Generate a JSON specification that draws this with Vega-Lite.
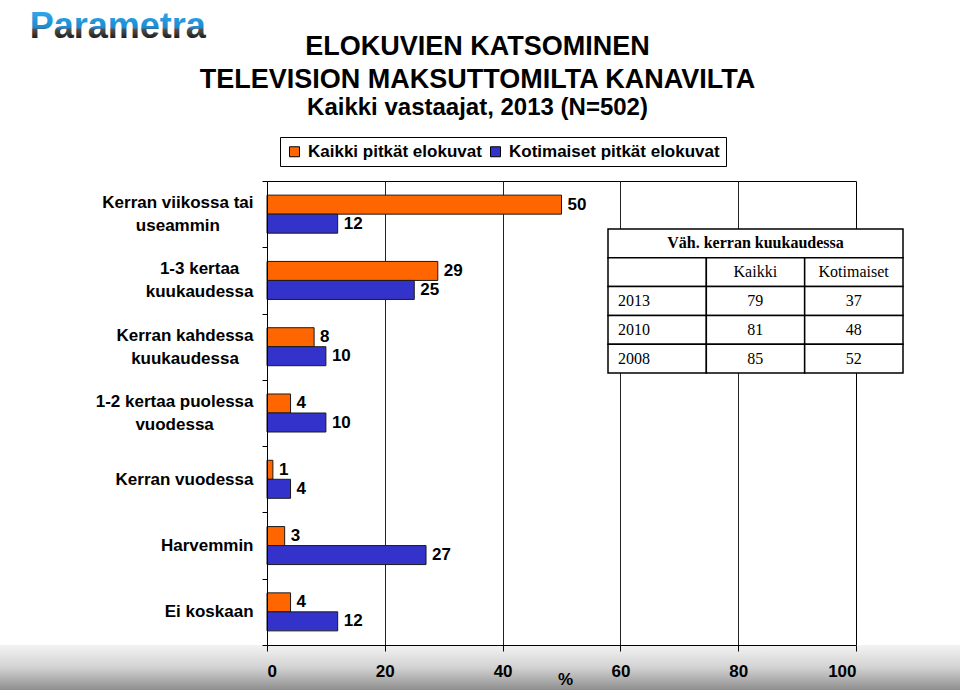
{
  "$schema": "https://vega.github.io/schema/vega-lite/v6.json",
  "width": 589,
  "height": 464,
  "autosize": "none",
  "padding": {"left": 267, "top": 181, "right": 104, "bottom": 50},
  "background": "white",
  "config": {
    "view": {"stroke": "black", "strokeWidth": 1, "fill": "white"},
    "font": "Liberation Sans"
  },
  "title": {
    "text": ["ELOKUVIEN KATSOMINEN", "TELEVISION MAKSUTTOMILTA KANAVILTA"],
    "subtitle": "Kaikki vastaajat, 2013 (N=502)",
    "anchor": "middle",
    "frame": "group",
    "dx": -84,
    "offset": -112,
    "font": "Liberation Sans",
    "fontSize": 27,
    "fontWeight": "bold",
    "color": "black",
    "lineHeight": 33,
    "subtitleFont": "Liberation Sans",
    "subtitleFontSize": 24,
    "subtitleFontWeight": "bold",
    "subtitleColor": "black",
    "subtitlePadding": 2
  },
  "datasets": {
    "bars": [
      {"kategoria": "Kerran viikossa tai useammin", "sarja": "Kaikki pitkät elokuvat", "arvo": 50},
      {"kategoria": "Kerran viikossa tai useammin", "sarja": "Kotimaiset pitkät elokuvat", "arvo": 12},
      {"kategoria": "1-3 kertaa kuukaudessa", "sarja": "Kaikki pitkät elokuvat", "arvo": 29},
      {"kategoria": "1-3 kertaa kuukaudessa", "sarja": "Kotimaiset pitkät elokuvat", "arvo": 25},
      {"kategoria": "Kerran kahdessa kuukaudessa", "sarja": "Kaikki pitkät elokuvat", "arvo": 8},
      {"kategoria": "Kerran kahdessa kuukaudessa", "sarja": "Kotimaiset pitkät elokuvat", "arvo": 10},
      {"kategoria": "1-2 kertaa puolessa vuodessa", "sarja": "Kaikki pitkät elokuvat", "arvo": 4},
      {"kategoria": "1-2 kertaa puolessa vuodessa", "sarja": "Kotimaiset pitkät elokuvat", "arvo": 10},
      {"kategoria": "Kerran vuodessa", "sarja": "Kaikki pitkät elokuvat", "arvo": 1},
      {"kategoria": "Kerran vuodessa", "sarja": "Kotimaiset pitkät elokuvat", "arvo": 4},
      {"kategoria": "Harvemmin", "sarja": "Kaikki pitkät elokuvat", "arvo": 3},
      {"kategoria": "Harvemmin", "sarja": "Kotimaiset pitkät elokuvat", "arvo": 27},
      {"kategoria": "Ei koskaan", "sarja": "Kaikki pitkät elokuvat", "arvo": 4},
      {"kategoria": "Ei koskaan", "sarja": "Kotimaiset pitkät elokuvat", "arvo": 12}
    ],
    "table": [
      {"rivi": 0, "riviLoppu": 1, "sarake": 0, "sarakeLoppu": 3, "teksti": "Väh. kerran kuukaudessa"},
      {"rivi": 1, "riviLoppu": 2, "sarake": 0, "sarakeLoppu": 1, "teksti": ""},
      {"rivi": 1, "riviLoppu": 2, "sarake": 1, "sarakeLoppu": 2, "teksti": "Kaikki"},
      {"rivi": 1, "riviLoppu": 2, "sarake": 2, "sarakeLoppu": 3, "teksti": "Kotimaiset"},
      {"rivi": 2, "riviLoppu": 3, "sarake": 0, "sarakeLoppu": 1, "teksti": "2013"},
      {"rivi": 2, "riviLoppu": 3, "sarake": 1, "sarakeLoppu": 2, "teksti": "79"},
      {"rivi": 2, "riviLoppu": 3, "sarake": 2, "sarakeLoppu": 3, "teksti": "37"},
      {"rivi": 3, "riviLoppu": 4, "sarake": 0, "sarakeLoppu": 1, "teksti": "2010"},
      {"rivi": 3, "riviLoppu": 4, "sarake": 1, "sarakeLoppu": 2, "teksti": "81"},
      {"rivi": 3, "riviLoppu": 4, "sarake": 2, "sarakeLoppu": 3, "teksti": "48"},
      {"rivi": 4, "riviLoppu": 5, "sarake": 0, "sarakeLoppu": 1, "teksti": "2008"},
      {"rivi": 4, "riviLoppu": 5, "sarake": 1, "sarakeLoppu": 2, "teksti": "85"},
      {"rivi": 4, "riviLoppu": 5, "sarake": 2, "sarakeLoppu": 3, "teksti": "52"}
    ],
    "logo": [{"logo": "Parametra"}]
  },
  "resolve": {
    "scale": {"x": "independent", "y": "independent"},
    "axis": {"x": "independent", "y": "independent"}
  },
  "layer": [
    {
      "data": {"name": "logo"},
      "encoding": {
        "x": {
          "datum": 0,
          "type": "quantitative",
          "scale": {"domain": [0, 100], "nice": false, "zero": false},
          "axis": {
            "orient": "bottom",
            "grid": true,
            "gridColor": "#222222",
            "gridWidth": 1,
            "values": [20, 40, 60, 80],
            "domain": false,
            "ticks": false,
            "labels": false,
            "title": null,
            "zindex": 0,
            "maxExtent": 0,
            "minExtent": 0
          }
        },
        "y": {
          "datum": 0,
          "type": "quantitative",
          "scale": {"domain": [0, 7], "nice": false, "zero": false, "reverse": true},
          "axis": null
        }
      },
      "layer": [
        {
          "mark": {
            "type": "rect",
            "fill": {
              "gradient": "linear",
              "x1": 0, "y1": 0, "x2": 0, "y2": 1,
              "stops": [
                {"offset": 0, "color": "#f3f3f3"},
                {"offset": 0.5, "color": "#d2d2d2"},
                {"offset": 1, "color": "#8e8e8e"}
              ]
            }
          },
          "encoding": {
            "x": {"datum": -45.4, "type": "quantitative"},
            "x2": {"datum": 117.7},
            "y": {"datum": 7.0, "type": "quantitative"},
            "y2": {"datum": 7.68}
          }
        },
        {
          "mark": {
            "type": "text",
            "align": "left",
            "baseline": "alphabetic",
            "font": "Liberation Sans",
            "fontSize": 36,
            "fontWeight": "bold",
            "fill": {
              "gradient": "linear",
              "x1": 0, "y1": 0, "x2": 0, "y2": 1,
              "stops": [
                {"offset": 0, "color": "#3ab3f0"},
                {"offset": 0.56, "color": "#1a8bd2"},
                {"offset": 0.6, "color": "#505050"},
                {"offset": 0.82, "color": "#1c1c1c"},
                {"offset": 1, "color": "#1c1c1c"}
              ]
            }
          },
          "encoding": {
            "x": {"datum": -40.3, "type": "quantitative"},
            "y": {"datum": -2.16, "type": "quantitative"},
            "text": {"field": "logo"}
          }
        }
      ]
    },
    {
      "data": {"name": "bars"},
      "encoding": {
        "y": {
          "field": "kategoria",
          "type": "nominal",
          "sort": [
            "Kerran viikossa tai useammin",
            "1-3 kertaa kuukaudessa",
            "Kerran kahdessa kuukaudessa",
            "1-2 kertaa puolessa vuodessa",
            "Kerran vuodessa",
            "Harvemmin",
            "Ei koskaan"
          ],
          "scale": {"paddingInner": 0, "paddingOuter": 0},
          "axis": {
            "orient": "left",
            "title": null,
            "zindex": 1,
            "domainColor": "black",
            "domainWidth": 1,
            "tickColor": "black",
            "tickSize": 5,
            "tickBand": "extent",
            "labelFont": "Liberation Sans",
            "labelFontSize": 17,
            "labelFontWeight": "bold",
            "labelColor": "black",
            "labelAlign": "center",
            "labelBaseline": "middle",
            "labelLineHeight": 23,
            "labelLimit": 300,
            "labelOffset": {
              "condition": [
                {"test": "datum.value == 'Kerran viikossa tai useammin'", "value": -11.5},
                {"test": "datum.value == '1-3 kertaa kuukaudessa'", "value": -11.5},
                {"test": "datum.value == 'Kerran kahdessa kuukaudessa'", "value": -11.5},
                {"test": "datum.value == '1-2 kertaa puolessa vuodessa'", "value": -11.5}
              ],
              "value": 0
            },
            "labelPadding": {
              "condition": [
                {"test": "datum.value == 'Kerran viikossa tai useammin'", "value": 84.6},
                {"test": "datum.value == '1-3 kertaa kuukaudessa'", "value": 62.9},
                {"test": "datum.value == 'Kerran kahdessa kuukaudessa'", "value": 77.5},
                {"test": "datum.value == '1-2 kertaa puolessa vuodessa'", "value": 87.9},
                {"test": "datum.value == 'Kerran vuodessa'", "value": 78},
                {"test": "datum.value == 'Harvemmin'", "value": 55.3}
              ],
              "value": 53.4
            },
            "labelExpr": "datum.value == 'Kerran viikossa tai useammin' ? ['Kerran viikossa tai', 'useammin'] : datum.value == '1-3 kertaa kuukaudessa' ? ['1-3 kertaa', 'kuukaudessa'] : datum.value == 'Kerran kahdessa kuukaudessa' ? ['Kerran kahdessa', 'kuukaudessa'] : datum.value == '1-2 kertaa puolessa vuodessa' ? ['1-2 kertaa puolessa', 'vuodessa'] : datum.label"
          }
        },
        "yOffset": {
          "field": "sarja",
          "type": "nominal",
          "sort": ["Kaikki pitkät elokuvat", "Kotimaiset pitkät elokuvat"],
          "scale": {"paddingInner": 0, "paddingOuter": 0.744}
        },
        "x": {
          "field": "arvo",
          "type": "quantitative",
          "scale": {"domain": [0, 100], "nice": false, "zero": false},
          "axis": {
            "orient": "bottom",
            "zindex": 1,
            "grid": false,
            "values": [0, 20, 40, 60, 80, 100],
            "domainColor": "black",
            "domainWidth": 1,
            "tickColor": "black",
            "tickSize": 6,
            "labelFont": "Liberation Sans",
            "labelFontSize": 17,
            "labelFontWeight": "bold",
            "labelColor": "black",
            "labelPadding": 12,
            "title": "%",
            "titleFont": "Liberation Sans",
            "titleFontSize": 17,
            "titleFontWeight": "bold",
            "titleColor": "black",
            "titleX": 298,
            "titleY": 34,
            "titleAlign": "center",
            "titleBaseline": "middle"
          }
        }
      },
      "layer": [
        {
          "mark": {"type": "bar", "stroke": "#1a1a1a", "strokeWidth": 1},
          "encoding": {
            "color": {
              "field": "sarja",
              "type": "nominal",
              "scale": {
                "domain": ["Kaikki pitkät elokuvat", "Kotimaiset pitkät elokuvat"],
                "range": ["#ff6600", "#3333cc"]
              },
              "legend": {
                "orient": "none",
                "legendX": 13,
                "legendY": -44,
                "direction": "horizontal",
                "title": null,
                "strokeColor": "black",
                "fillColor": "white",
                "padding": 6,
                "symbolType": "square",
                "symbolSize": 100,
                "symbolStrokeColor": "black",
                "symbolStrokeWidth": 1,
                "symbolOpacity": 1,
                "labelFont": "Liberation Sans",
                "labelFontSize": 17,
                "labelFontWeight": "bold",
                "labelColor": "black",
                "labelOffset": 5,
                "labelLimit": 400,
                "columnPadding": 5
              }
            }
          }
        },
        {
          "mark": {
            "type": "text",
            "align": "left",
            "baseline": "middle",
            "dx": 6,
            "font": "Liberation Sans",
            "fontSize": 17,
            "fontWeight": "bold",
            "color": "black"
          },
          "encoding": {"text": {"field": "arvo", "type": "quantitative"}}
        }
      ]
    },
    {
      "data": {"name": "table"},
      "encoding": {
        "x": {
          "field": "sarake",
          "type": "quantitative",
          "scale": {"domain": [0, 3], "range": [341, 636], "nice": false, "zero": false},
          "axis": null
        },
        "y": {
          "field": "rivi",
          "type": "quantitative",
          "scale": {"domain": [0, 5], "range": [48, 192], "nice": false, "zero": false},
          "axis": null
        }
      },
      "layer": [
        {
          "mark": {"type": "rect", "fill": "white", "stroke": "black", "strokeWidth": 1.5},
          "encoding": {
            "x2": {"field": "sarakeLoppu"},
            "y2": {"field": "riviLoppu"}
          }
        },
        {
          "mark": {
            "type": "text",
            "font": "Liberation Serif",
            "fontSize": 16,
            "color": "black",
            "baseline": "middle",
            "dy": 14.4,
            "align": {"expr": "datum.sarake == 0 && datum.sarakeLoppu == 1 ? 'left' : 'center'"},
            "dx": {"expr": "datum.sarakeLoppu - datum.sarake == 3 ? 147.5 : (datum.sarake == 0 ? 10 : 49)"},
            "fontWeight": {"expr": "datum.rivi == 0 ? 'bold' : 'normal'"}
          },
          "encoding": {"text": {"field": "teksti"}}
        }
      ]
    }
  ]
}
